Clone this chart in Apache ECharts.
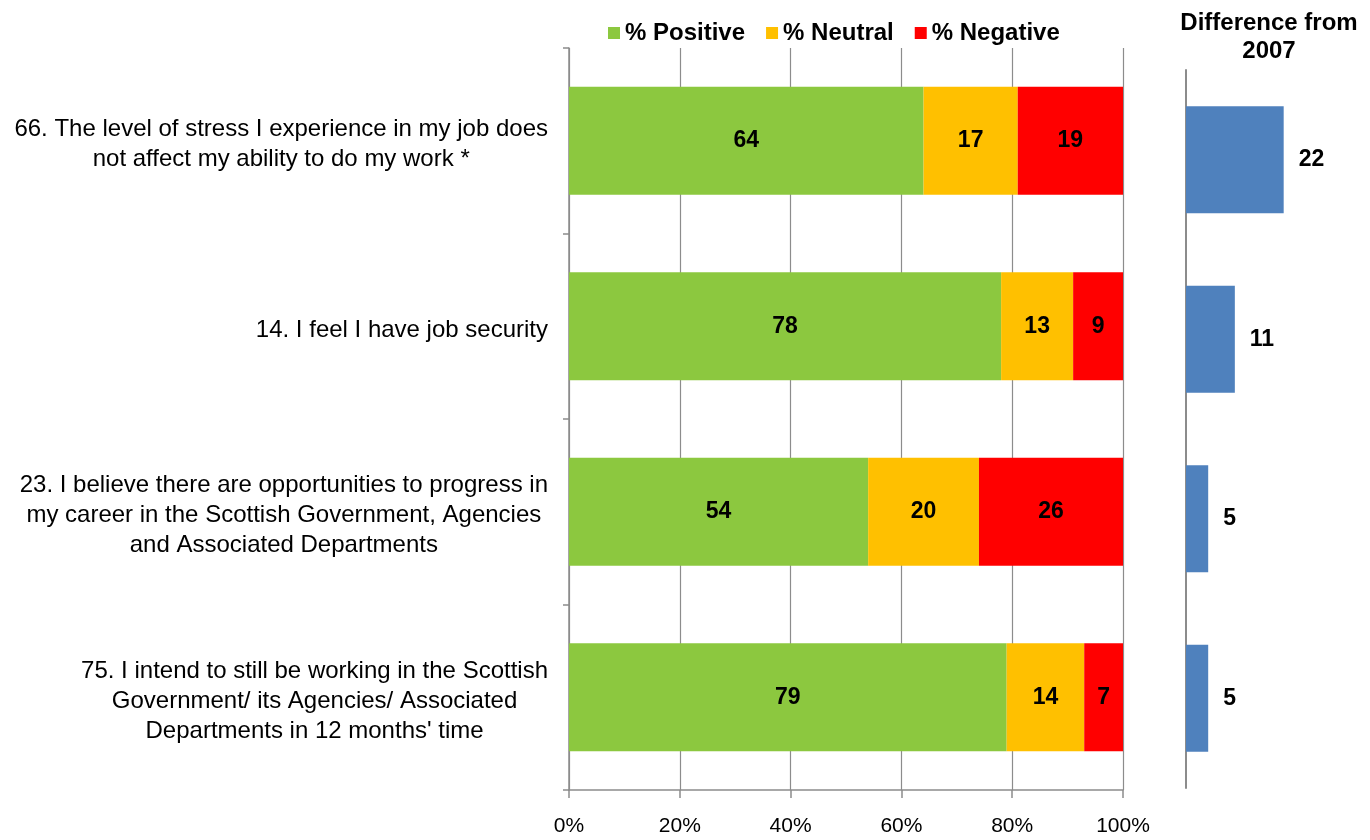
<!DOCTYPE html>
<html>
<head>
<meta charset="utf-8">
<script src="https://cdn.jsdelivr.net/npm/echarts@6/dist/echarts.min.js"></script>
<style>
  html, body { margin: 0; padding: 0; background: #fff; }
  #chart { width: 1370px; height: 840px; }
</style>
</head>
<body>
<div id="chart"></div>
<script>
// Survey statements, top to bottom
const questions = [
  "66. The level of stress I experience in my job does\nnot affect my ability to do my work *",
  "14. I feel I have job security",
  "23. I believe there are opportunities to progress in\nmy career in the Scottish Government, Agencies\nand Associated Departments",
  "75. I intend to still be working in the Scottish\nGovernment/ its Agencies/ Associated\nDepartments in 12 months' time"
];
const positive = [64, 78, 54, 79];
const neutral = [17, 13, 20, 14];
const negative = [19, 9, 26, 7];
const diff2007 = [22, 11, 5, 5];
const percentTicks = ["0%", "20%", "40%", "60%", "80%", "100%"];

const FONT = "'Liberation Sans', Arial, sans-serif";
const GRID_GRAY = "#8c8c8c";

const chart = echarts.init(document.getElementById("chart"), null, { renderer: "canvas" });

const segLabel = {
  show: true,
  position: "inside",
  color: "#000",
  fontFamily: FONT,
  fontWeight: "bold",
  fontSize: 23
};

function stackSeries(name, data, color) {
  return {
    name: name,
    type: "bar",
    stack: "share",
    xAxisIndex: 0,
    yAxisIndex: 0,
    barWidth: 108,
    data: data,
    itemStyle: { color: color },
    label: segLabel
  };
}

chart.setOption({
  animation: false,
  textStyle: { fontFamily: FONT },
  title: {
    text: "Difference from\n2007",
    left: 1264,
    top: 4,
    textAlign: "center",
    textStyle: { fontFamily: FONT, fontWeight: "bold", fontSize: 24, lineHeight: 28, color: "#000" }
  },
  legend: {
    top: 16,
    left: 603,
    itemWidth: 12,
    itemHeight: 12,
    itemGap: 21,
    icon: "rect",
    data: ["% Positive", "% Neutral", "% Negative"],
    textStyle: { fontFamily: FONT, fontWeight: "bold", fontSize: 24, color: "#000", padding: [0, 0, 0, 0] }
  },
  grid: [
    { left: 569, right: 247, top: 48, bottom: 50, containLabel: false },
    { left: 1186, width: 111, top: 70, bottom: 52, containLabel: false }
  ],
  xAxis: [
    {
      gridIndex: 0,
      type: "value",
      min: 0,
      max: 100,
      interval: 20,
      axisLine: { show: true, lineStyle: { color: GRID_GRAY, width: 1.5 } },
      axisTick: { show: true, length: 8, lineStyle: { color: GRID_GRAY, width: 1.5 } },
      splitLine: { show: true, lineStyle: { color: GRID_GRAY, width: 1.2 } },
      axisLabel: {
        margin: 26,
        fontSize: 21,
        color: "#000",
        fontFamily: FONT,
        formatter: function (v) { return percentTicks[Math.round(v / 20)]; }
      }
    },
    {
      gridIndex: 1,
      type: "value",
      min: 0,
      max: 25,
      show: false
    }
  ],
  yAxis: [
    {
      gridIndex: 0,
      type: "category",
      inverse: true,
      data: questions,
      axisLine: { show: true, lineStyle: { color: GRID_GRAY, width: 1.5 } },
      axisTick: { show: true, length: 6, lineStyle: { color: GRID_GRAY, width: 1.5 } },
      axisLabel: {
        margin: 21,
        align: "right",
        fontSize: 24,
        fontFamily: FONT,
        color: "#000",
        lineHeight: 30,
        padding: [8, 0, 0, 0],
        formatter: function (v) {
          return v.split("\n").map(function (l) { return "{c|" + l + "}"; }).join("\n");
        },
        rich: {
          c: { align: "center", fontSize: 24, fontFamily: FONT, color: "#000", lineHeight: 30 }
        }
      }
    },
    {
      gridIndex: 1,
      type: "category",
      inverse: true,
      data: questions,
      axisLine: { show: true, lineStyle: { color: GRID_GRAY, width: 2 } },
      axisTick: { show: false },
      axisLabel: { show: false }
    }
  ],
  series: [
    stackSeries("% Positive", positive, "#8cc83f"),
    stackSeries("% Neutral", neutral, "#ffc000"),
    stackSeries("% Negative", negative, "#ff0000"),
    {
      name: "Difference from 2007",
      type: "bar",
      xAxisIndex: 1,
      yAxisIndex: 1,
      barWidth: 107,
      data: diff2007,
      itemStyle: { color: "#4f81bd" },
      label: {
        show: true,
        position: "right",
        distance: 15,
        color: "#000",
        fontFamily: FONT,
        fontWeight: "bold",
        fontSize: 23
      }
    }
  ]
});
</script>
</body>
</html>
